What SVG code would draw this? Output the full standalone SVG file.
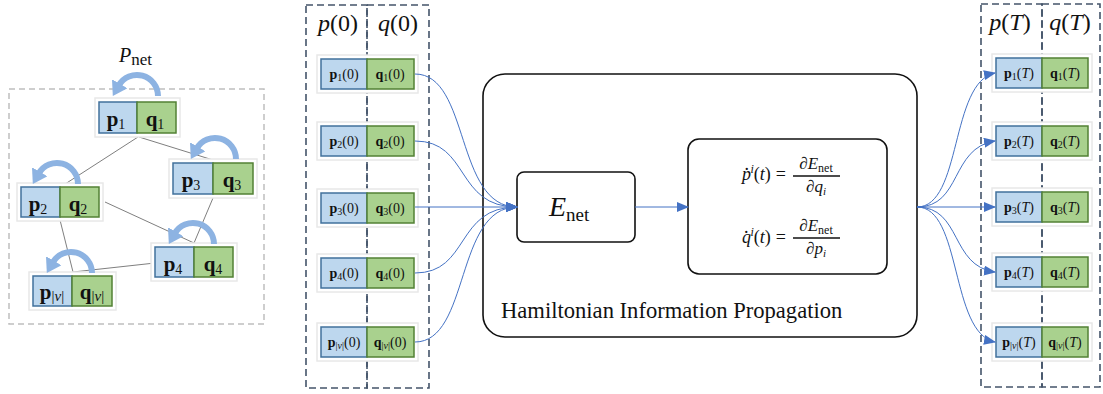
<svg xmlns="http://www.w3.org/2000/svg" width="1103" height="394" viewBox="0 0 1103 394">
<style>
text{font-family:"Liberation Serif","DejaVu Serif",serif;fill:#111}
.pb{fill:#bdd7ee;stroke:#41719c;stroke-width:1.5}
.qb{fill:#a9d18e;stroke:#538135;stroke-width:1.5}
.halo{fill:#fff;stroke:#e8e8e8;stroke-width:1.5}
.edge{stroke:#7f7f7f;stroke-width:1;fill:none}
.loop{stroke:#8db3e2;stroke-width:6;fill:none;marker-end:url(#big)}
.col{fill:none;stroke:#44546a;stroke-width:1.6;stroke-dasharray:7 4}
.con{fill:none;stroke:#4472c4;stroke-width:1}
.bx{fill:#fff;stroke:#111;stroke-width:1.6}
.nt{font-size:21px;font-weight:bold;text-anchor:middle}
.st{font-size:14px;text-anchor:middle}
.it{font-style:italic}
</style>
<defs>
<marker id="big" markerUnits="userSpaceOnUse" markerWidth="16" markerHeight="18" refX="2" refY="9" orient="auto">
<path d="M0,0 L14,9 L0,18 Z" fill="#8db3e2"/>
</marker>
<marker id="ah" markerUnits="userSpaceOnUse" markerWidth="12" markerHeight="10" refX="11" refY="5" orient="auto">
<path d="M0,0 L12,5 L0,10 Z" fill="#4472c4"/>
</marker>
</defs>

<g id="left-panel">
<rect x="9" y="89" width="255" height="235" fill="none" stroke="#bfbfbf" stroke-width="1.5" stroke-dasharray="6 4"/>
<text x="119" y="62" font-size="20"><tspan class="it">P</tspan><tspan font-size="17" dy="3">net</tspan></text>
</g>

<g id="graph-edges">
<line class="edge" x1="138" y1="137" x2="62" y2="186"/>
<line class="edge" x1="139" y1="137" x2="213" y2="160"/>
<line class="edge" x1="105" y1="202" x2="194" y2="243"/>
<line class="edge" x1="213" y1="198" x2="194" y2="243"/>
<line class="edge" x1="60" y1="220" x2="73" y2="272"/>
<line class="edge" x1="155" y1="263" x2="73" y2="272"/>
</g>

<g id="g-node1">
<rect class="halo" x="95" y="98" width="85" height="39"/>
<rect class="pb" x="99" y="102" width="38" height="31"/>
<rect class="qb" x="137" y="102" width="39" height="31"/>
<text class="nt" x="116" y="126">p<tspan font-size="14" font-weight="normal" dy="3">1</tspan></text>
<text class="nt" x="155" y="126">q<tspan font-size="14" font-weight="normal" dy="3">1</tspan></text>
</g>
<g id="g-node2">
<rect class="halo" x="17" y="183" width="86" height="38"/>
<rect class="pb" x="21" y="187" width="39" height="30"/>
<rect class="qb" x="60" y="187" width="39" height="30"/>
<text class="nt" x="38" y="211">p<tspan font-size="14" font-weight="normal" dy="3">2</tspan></text>
<text class="nt" x="78" y="211">q<tspan font-size="14" font-weight="normal" dy="3">2</tspan></text>
</g>
<g id="g-node3">
<rect class="halo" x="169" y="159" width="88" height="39"/>
<rect class="pb" x="173" y="163" width="40" height="31"/>
<rect class="qb" x="213" y="163" width="40" height="31"/>
<text class="nt" x="191" y="187">p<tspan font-size="14" font-weight="normal" dy="3">3</tspan></text>
<text class="nt" x="232" y="187">q<tspan font-size="14" font-weight="normal" dy="3">3</tspan></text>
</g>
<g id="g-node4">
<rect class="halo" x="151" y="243" width="86" height="38"/>
<rect class="pb" x="155" y="247" width="39" height="30"/>
<rect class="qb" x="194" y="247" width="39" height="30"/>
<text class="nt" x="173" y="271">p<tspan font-size="14" font-weight="normal" dy="3">4</tspan></text>
<text class="nt" x="213" y="271">q<tspan font-size="14" font-weight="normal" dy="3">4</tspan></text>
</g>
<g id="g-nodeV">
<rect class="halo" x="29" y="272" width="87" height="38"/>
<rect class="pb" x="33" y="276" width="39" height="30"/>
<rect class="qb" x="72" y="276" width="40" height="30"/>
<text class="nt" x="52" y="299">p<tspan font-size="15" font-weight="normal" dy="2">|<tspan class="it">ν</tspan>|</tspan></text>
<text class="nt" x="92" y="299">q<tspan font-size="15" font-weight="normal" dy="2">|<tspan class="it">ν</tspan>|</tspan></text>
</g>

<g id="self-loops">
<path class="loop" d="M158,96 A21,21 0 0 0 118.8,85.5"/>
<path class="loop" d="M236,159 A21,21 0 0 0 196.8,148.5"/>
<path class="loop" d="M78,184 A21,21 0 0 0 38.8,173.5"/>
<path class="loop" d="M214,244 A21,21 0 0 0 174.8,233.5"/>
<path class="loop" d="M92,273 A21,21 0 0 0 52.8,262.5"/>
</g>

<g id="input-columns">
<rect class="col" x="306" y="5" width="61" height="383"/>
<rect class="col" x="367" y="5" width="62" height="383"/>
<text x="338" y="31" font-size="24" text-anchor="middle"><tspan class="it">p</tspan>(0)</text>
<text x="398" y="31" font-size="24" text-anchor="middle"><tspan class="it">q</tspan>(0)</text>
</g>

<g id="in-node1">
<rect class="halo" x="317" y="55" width="101" height="38"/>
<rect class="pb" x="321" y="59" width="46" height="30"/>
<rect class="qb" x="367" y="59" width="47" height="30"/>
<text class="st" x="344" y="79"><tspan font-weight="bold">p</tspan><tspan font-size="10" dy="2">1</tspan><tspan dy="-2">(0)</tspan></text>
<text class="st" x="390" y="79"><tspan font-weight="bold">q</tspan><tspan font-size="10" dy="2">1</tspan><tspan dy="-2">(0)</tspan></text>
</g>
<g id="in-node2">
<rect class="halo" x="317" y="122" width="101" height="38"/>
<rect class="pb" x="321" y="126" width="46" height="30"/>
<rect class="qb" x="367" y="126" width="47" height="30"/>
<text class="st" x="344" y="146"><tspan font-weight="bold">p</tspan><tspan font-size="10" dy="2">2</tspan><tspan dy="-2">(0)</tspan></text>
<text class="st" x="390" y="146"><tspan font-weight="bold">q</tspan><tspan font-size="10" dy="2">2</tspan><tspan dy="-2">(0)</tspan></text>
</g>
<g id="in-node3">
<rect class="halo" x="317" y="189" width="101" height="38"/>
<rect class="pb" x="321" y="193" width="46" height="30"/>
<rect class="qb" x="367" y="193" width="47" height="30"/>
<text class="st" x="344" y="213"><tspan font-weight="bold">p</tspan><tspan font-size="10" dy="2">3</tspan><tspan dy="-2">(0)</tspan></text>
<text class="st" x="390" y="213"><tspan font-weight="bold">q</tspan><tspan font-size="10" dy="2">3</tspan><tspan dy="-2">(0)</tspan></text>
</g>
<g id="in-node4">
<rect class="halo" x="317" y="254" width="101" height="38"/>
<rect class="pb" x="321" y="258" width="46" height="30"/>
<rect class="qb" x="367" y="258" width="47" height="30"/>
<text class="st" x="344" y="278"><tspan font-weight="bold">p</tspan><tspan font-size="10" dy="2">4</tspan><tspan dy="-2">(0)</tspan></text>
<text class="st" x="390" y="278"><tspan font-weight="bold">q</tspan><tspan font-size="10" dy="2">4</tspan><tspan dy="-2">(0)</tspan></text>
</g>
<g id="in-nodeV">
<rect class="halo" x="317" y="323" width="101" height="38"/>
<rect class="pb" x="321" y="327" width="46" height="30"/>
<rect class="qb" x="367" y="327" width="47" height="30"/>
<text class="st" x="344" y="347"><tspan font-weight="bold">p</tspan><tspan font-size="10" dy="2">|<tspan class="it">ν</tspan>|</tspan><tspan dy="-2">(0)</tspan></text>
<text class="st" x="390" y="347"><tspan font-weight="bold">q</tspan><tspan font-size="10" dy="2">|<tspan class="it">ν</tspan>|</tspan><tspan dy="-2">(0)</tspan></text>
</g>

<g id="hip">
<rect class="bx" x="483" y="74" width="434" height="263" rx="22"/>
<text x="501" y="318" font-size="22.6">Hamiltonian Information Propagation</text>
</g>
<g id="energy">
<rect class="bx" x="517" y="172" width="118" height="70" rx="7"/>
<text x="549" y="216" font-size="28"><tspan class="it">E</tspan><tspan font-size="19" dy="5">net</tspan></text>
</g>
<g id="equations">
<rect class="bx" x="688" y="139" width="199" height="135" rx="11"/>
<text x="742" y="180" font-size="18"><tspan class="it">p</tspan><tspan dx="-6.5" dy="-10">.</tspan><tspan class="it" font-size="12" dx="1.5" dy="3">i</tspan><tspan dy="7">(</tspan><tspan class="it">t</tspan>)<tspan dx="5">=</tspan></text>
<text x="816" y="169" font-size="17" text-anchor="middle">∂<tspan class="it">E</tspan><tspan font-size="12" dy="3">net</tspan></text>
<line x1="793" y1="176" x2="840" y2="176" stroke="#111" stroke-width="1.6"/>
<text x="816" y="192" font-size="17" text-anchor="middle">∂<tspan class="it">q</tspan><tspan class="it" font-size="11" dy="3">i</tspan></text>
<text x="742" y="243" font-size="18"><tspan class="it">q</tspan><tspan dx="-7" dy="-10">.</tspan><tspan class="it" font-size="12" dx="2" dy="3">i</tspan><tspan dy="7">(</tspan><tspan class="it">t</tspan>)<tspan dx="5">=</tspan></text>
<text x="816" y="231" font-size="17" text-anchor="middle">∂<tspan class="it">E</tspan><tspan font-size="12" dy="3">net</tspan></text>
<line x1="793" y1="238" x2="840" y2="238" stroke="#111" stroke-width="1.6"/>
<text x="816" y="254" font-size="17" text-anchor="middle">∂<tspan class="it">p</tspan><tspan class="it" font-size="11" dy="3">i</tspan></text>
</g>

<g id="output-columns">
<rect class="col" x="981" y="4" width="61" height="383"/>
<rect class="col" x="1042" y="4" width="58" height="383"/>
<text x="1010" y="30" font-size="24" text-anchor="middle"><tspan class="it">p</tspan>(<tspan class="it">T</tspan>)</text>
<text x="1070" y="30" font-size="24" text-anchor="middle"><tspan class="it">q</tspan>(<tspan class="it">T</tspan>)</text>
</g>

<g id="out-node1">
<rect class="halo" x="992" y="54" width="100" height="38"/>
<rect class="pb" x="996" y="58" width="46" height="30"/>
<rect class="qb" x="1042" y="58" width="46" height="30"/>
<text class="st" x="1019" y="78"><tspan font-weight="bold">p</tspan><tspan font-size="10" dy="2">1</tspan><tspan dy="-2">(</tspan><tspan class="it">T</tspan>)</text>
<text class="st" x="1065" y="78"><tspan font-weight="bold">q</tspan><tspan font-size="10" dy="2">1</tspan><tspan dy="-2">(</tspan><tspan class="it">T</tspan>)</text>
</g>
<g id="out-node2">
<rect class="halo" x="992" y="122" width="100" height="38"/>
<rect class="pb" x="996" y="126" width="46" height="30"/>
<rect class="qb" x="1042" y="126" width="46" height="30"/>
<text class="st" x="1019" y="146"><tspan font-weight="bold">p</tspan><tspan font-size="10" dy="2">2</tspan><tspan dy="-2">(</tspan><tspan class="it">T</tspan>)</text>
<text class="st" x="1065" y="146"><tspan font-weight="bold">q</tspan><tspan font-size="10" dy="2">2</tspan><tspan dy="-2">(</tspan><tspan class="it">T</tspan>)</text>
</g>
<g id="out-node3">
<rect class="halo" x="992" y="188" width="100" height="38"/>
<rect class="pb" x="996" y="192" width="46" height="30"/>
<rect class="qb" x="1042" y="192" width="46" height="30"/>
<text class="st" x="1019" y="212"><tspan font-weight="bold">p</tspan><tspan font-size="10" dy="2">3</tspan><tspan dy="-2">(</tspan><tspan class="it">T</tspan>)</text>
<text class="st" x="1065" y="212"><tspan font-weight="bold">q</tspan><tspan font-size="10" dy="2">3</tspan><tspan dy="-2">(</tspan><tspan class="it">T</tspan>)</text>
</g>
<g id="out-node4">
<rect class="halo" x="992" y="253" width="100" height="38"/>
<rect class="pb" x="996" y="257" width="46" height="30"/>
<rect class="qb" x="1042" y="257" width="46" height="30"/>
<text class="st" x="1019" y="277"><tspan font-weight="bold">p</tspan><tspan font-size="10" dy="2">4</tspan><tspan dy="-2">(</tspan><tspan class="it">T</tspan>)</text>
<text class="st" x="1065" y="277"><tspan font-weight="bold">q</tspan><tspan font-size="10" dy="2">4</tspan><tspan dy="-2">(</tspan><tspan class="it">T</tspan>)</text>
</g>
<g id="out-nodeV">
<rect class="halo" x="992" y="323" width="100" height="38"/>
<rect class="pb" x="996" y="327" width="46" height="30"/>
<rect class="qb" x="1042" y="327" width="46" height="30"/>
<text class="st" x="1019" y="347"><tspan font-weight="bold">p</tspan><tspan font-size="10" dy="2">|<tspan class="it">ν</tspan>|</tspan><tspan dy="-2">(</tspan><tspan class="it">T</tspan>)</text>
<text class="st" x="1065" y="347"><tspan font-weight="bold">q</tspan><tspan font-size="10" dy="2">|<tspan class="it">ν</tspan>|</tspan><tspan dy="-2">(</tspan><tspan class="it">T</tspan>)</text>
</g>

<g id="connectors">
<path class="con" marker-end="url(#ah)" d="M415,74 C470,74 455,207 517,207"/>
<path class="con" marker-end="url(#ah)" d="M415,141 C470,141 455,207 517,207"/>
<path class="con" marker-end="url(#ah)" d="M415,207 L517,207"/>
<path class="con" marker-end="url(#ah)" d="M415,273 C470,273 455,207 517,207"/>
<path class="con" marker-end="url(#ah)" d="M415,342 C470,342 455,207 517,207"/>
<path class="con" stroke="#7fa3e0" stroke-width="1.5" marker-end="url(#ah)" d="M635,207 L688,207"/>
<path class="con" marker-end="url(#ah)" d="M917,207 C962,207 950,82 995,73"/>
<path class="con" marker-end="url(#ah)" d="M917,207 C962,207 950,148 995,141"/>
<path class="con" marker-end="url(#ah)" d="M917,207 L995,207"/>
<path class="con" marker-end="url(#ah)" d="M917,207 C962,207 950,266 995,272"/>
<path class="con" marker-end="url(#ah)" d="M917,207 C962,207 950,333 995,342"/>
</g>
</svg>
